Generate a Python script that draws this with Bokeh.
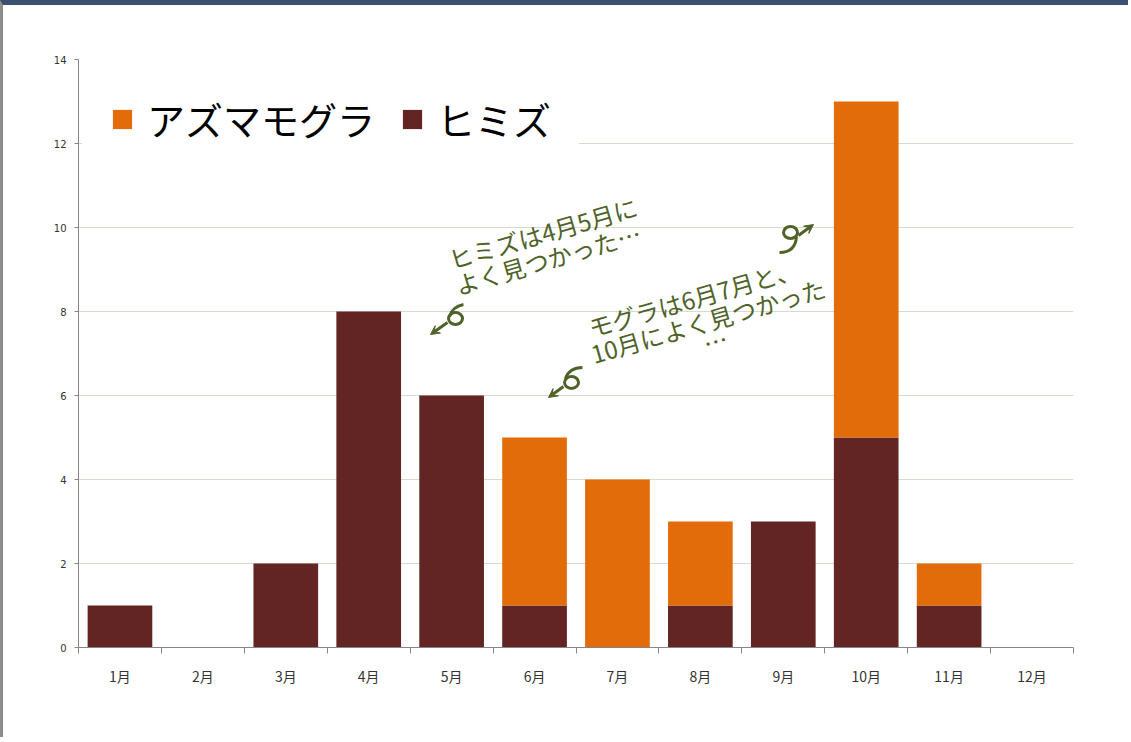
from bokeh.plotting import figure
from bokeh.models import (ColumnDataSource, Range1d, FixedTicker, Legend, LegendItem,
                          Arrow, VeeHead)
from bokeh.core.properties import value
from bokeh.embed import file_html
from bokeh.resources import INLINE

# ---- data ----
months = ["1月", "2月", "3月", "4月", "5月", "6月", "7月", "8月", "9月", "10月", "11月", "12月"]
himizu = [1, 0, 2, 8, 6, 1, 0, 1, 3, 5, 1, 0]          # ヒミズ
azumamogura = [0, 0, 0, 0, 0, 4, 4, 2, 0, 8, 1, 0]     # アズマモグラ
y_ticks = [0, 2, 4, 6, 8, 10, 12, 14]

ORANGE = "#E36C0A"
DARK = "#632523"
GREEN = "#4F6228"
JP = "Noto Sans CJK JP"

xpos = [i + 0.5 for i in range(len(months))]
src = ColumnDataSource(dict(x=xpos, himizu=himizu, azuma=azumamogura))

p = figure(width=1128, height=737, output_backend="svg", toolbar_location=None,
           x_range=Range1d(0, len(months)), y_range=Range1d(0, 14),
           min_border_left=75, min_border_right=58, min_border_top=54, min_border_bottom=95)
p.styles = {"border-top": "5px solid #3b4f70", "border-left": "3px solid #8c8c8c"}
p.outline_line_color = None
p.background_fill_color = "white"
p.border_fill_color = "white"

rs = p.vbar_stack(["himizu", "azuma"], x="x", width=0.78, source=src,
                  color=[DARK, ORANGE], line_color=None)

# axes
p.xaxis.ticker = FixedTicker(ticks=xpos, minor_ticks=list(range(len(months) + 1)))
p.xaxis.major_label_overrides = {x: m for x, m in zip(xpos, months)}
p.xaxis.major_tick_out = 0
p.xaxis.major_tick_in = 0
p.xaxis.minor_tick_out = 6
p.xaxis.minor_tick_in = 0
p.xaxis.minor_tick_line_color = "#868686"
p.xaxis.axis_line_color = "#868686"
p.xaxis.major_label_text_font = JP
p.xaxis.major_label_text_font_size = "14px"
p.xaxis.major_label_text_color = "#333333"
p.xaxis.major_label_standoff = 12

p.yaxis.ticker = FixedTicker(ticks=y_ticks)
p.yaxis.axis_line_color = "#868686"
p.yaxis.major_tick_line_color = "#868686"
p.yaxis.major_tick_out = 4
p.yaxis.major_tick_in = 0
p.yaxis.minor_tick_line_color = None
p.yaxis.major_label_text_font = "DejaVu Sans"
p.yaxis.major_label_text_font_size = "10px"
p.yaxis.major_label_text_color = "#333333"
p.yaxis.major_label_standoff = 8

p.xgrid.grid_line_color = None
p.ygrid.ticker = FixedTicker(ticks=y_ticks)
p.ygrid.grid_line_color = "#d9d9cc"

# legend
legend = Legend(items=[LegendItem(label="アズマモグラ", renderers=[rs[1]]),
                       LegendItem(label="ヒミズ", renderers=[rs[0]])],
                orientation="horizontal", location="top_left",
                margin=4, padding=27, spacing=25, label_height=46,
                glyph_width=24, glyph_height=24, label_standoff=13,
                label_text_font=JP, label_text_font_size="38px", label_text_color="black",
                background_fill_color="white", background_fill_alpha=1.0,
                border_line_color="white", border_line_width=1)
p.add_layout(legend)

# annotations (data units)
ang = 0.28
notes = [
    ("ヒミズは4月5月に", 5.60, 9.88),
    ("よく見つかった…", 5.66, 9.26),
    ("モグラは6月7月と、", 7.42, 8.33),
    ("10月によく見つかった", 7.59, 7.79),
    ("…", 7.68, 7.31),
]
p.text(x=[n[1] for n in notes], y=[n[2] for n in notes], text=[n[0] for n in notes],
       angle=ang, text_align="center", text_baseline="middle",
       text_font=value(JP), text_font_size="24px", text_color=GREEN)

# curly arrows
arrows = [
    # (shaft start, head, loop center, hook start, hook ctrl, hook end)
    ((4.450, 7.738), (4.245, 7.452), (4.547, 7.833), (4.474, 7.881), (4.510, 8.119), (4.643, 8.167)),
    ((5.849, 6.214), (5.668, 5.952), (5.946, 6.310), (5.873, 6.405), (5.921, 6.667), (6.078, 6.667)),
    ((8.683, 9.810), (8.864, 10.071), (8.587, 9.881), (8.659, 9.786), (8.647, 9.405), (8.454, 9.405)),
]
for s, h, c, h0, hc, h1 in arrows:
    p.add_layout(Arrow(x_start=s[0], y_start=s[1], x_end=h[0], y_end=h[1],
                       line_color=GREEN, line_width=3,
                       end=VeeHead(size=9, fill_color=GREEN, line_color=GREEN)))
    p.ellipse(x=[c[0]], y=[c[1]], width=14, height=12, width_units="screen", height_units="screen",
              fill_color=None, line_color=GREEN, line_width=3)
    p.quadratic(x0=[h0[0]], y0=[h0[1]], cx=[hc[0]], cy=[hc[1]], x1=[h1[0]], y1=[h1[1]],
                line_color=GREEN, line_width=3)

open("out.html", "w").write(file_html(p, INLINE))
